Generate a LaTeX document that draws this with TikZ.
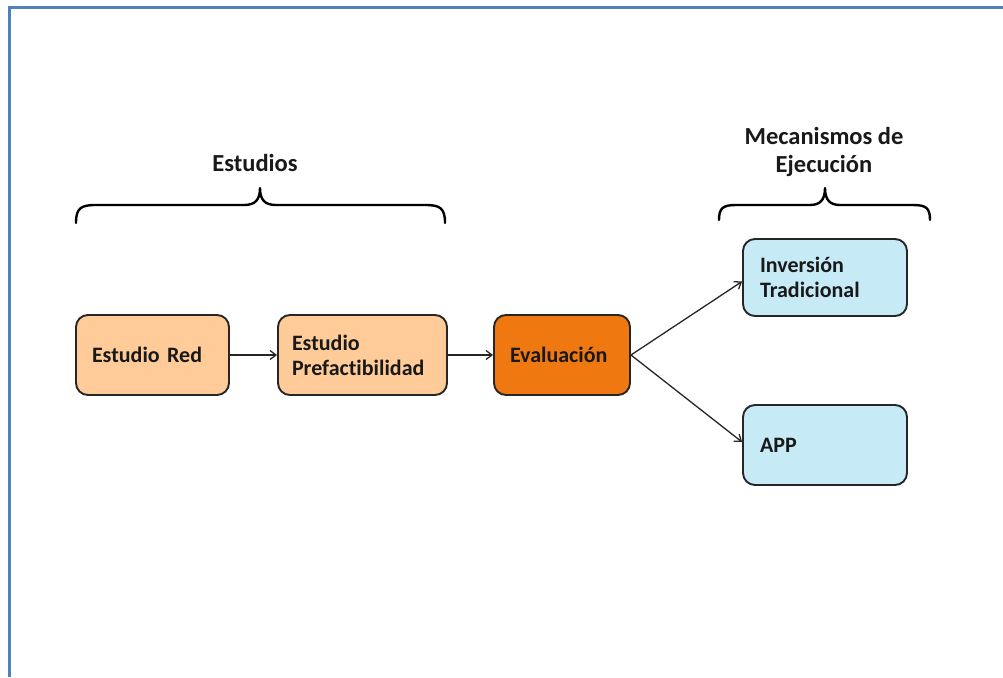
\documentclass[tikz,border=0pt]{standalone}
\usepackage{fontspec}
\setmainfont[Ligatures={NoCommon}]{Carlito}
\usetikzlibrary{arrows.meta}
\definecolor{peach}{RGB}{255,204,153}
\definecolor{evalorange}{RGB}{240,120,16}
\definecolor{lightblue}{RGB}{198,234,246}
\definecolor{frameblue}{RGB}{79,129,189}
\begin{document}
\begin{tikzpicture}[x=1pt,y=-1pt,
  box/.style={draw=black!85, line width=1.9pt, rounded corners=12pt, inner xsep=16pt,
    align=left, font=\fontsize{22}{25}\selectfont\bfseries, text=black!90},
  conn/.style={line width=1.3pt, black!85, -{Straight Barb[length=6pt,width=9pt]}},
  brace/.style={line width=2.4pt, black, line cap=round, line join=round},
  title/.style={font=\fontsize{24.5}{28}\selectfont\bfseries, align=center, text=black!90}]
\useasboundingbox (0,0) rectangle (1003,677);
\fill[white] (0,0) rectangle (1003,677);
% frame
\draw[frameblue, line width=3pt] (9,677) -- (9,8) -- (1003,8);
% boxes
\node[box, fill=peach, minimum width=153pt, minimum height=80pt, text width=121pt] (red) at (152.5,355) {Estudio Red};
\node[box, fill=peach, minimum width=169pt, minimum height=80pt, text width=141pt, inner xsep=14pt] (pre) at (362.5,355) {Estudio\\Prefactibilidad};
\node[box, fill=evalorange, minimum width=136pt, minimum height=80pt, text width=104pt] (eva) at (562,355) {Evaluación};
\node[box, fill=lightblue, minimum width=164pt, minimum height=77pt, text width=130pt, inner xsep=17pt] (inv) at (825,277.5) {Inversión\\Tradicional};
\node[box, fill=lightblue, minimum width=164pt, minimum height=80pt, text width=130pt, inner xsep=17pt] (app) at (825,445) {APP};
% connectors
\draw[conn] (red.east) -- (pre.west);
\draw[conn] (pre.east) -- (eva.west);
\draw[conn] (eva.east) -- ([yshift=-4pt]inv.west);
\draw[conn] (eva.east) -- ([yshift=3pt]app.west);
% titles
\node[title] (est) at (255,163) {Estudios};
\node[title] (mec) at (824,152) {Mecanismos de\\Ejecución};
% braces
\draw[brace] (76,223) .. controls (76,208) and (81,205) .. (96,205) -- (244,205)
  .. controls (255,205) and (260,200) .. (260,188)
  .. controls (260,200) and (265,205) .. (276,205) -- (425,205)
  .. controls (440,205) and (445,208) .. (445,223);
\draw[brace] (719,220) .. controls (719,208) and (723,205) .. (736,205) -- (810,205)
  .. controls (820,205) and (825,200) .. (825,188)
  .. controls (825,200) and (830,205) .. (840,205) -- (913,205)
  .. controls (926,205) and (930,208) .. (930,220);
\end{tikzpicture}
\end{document}
